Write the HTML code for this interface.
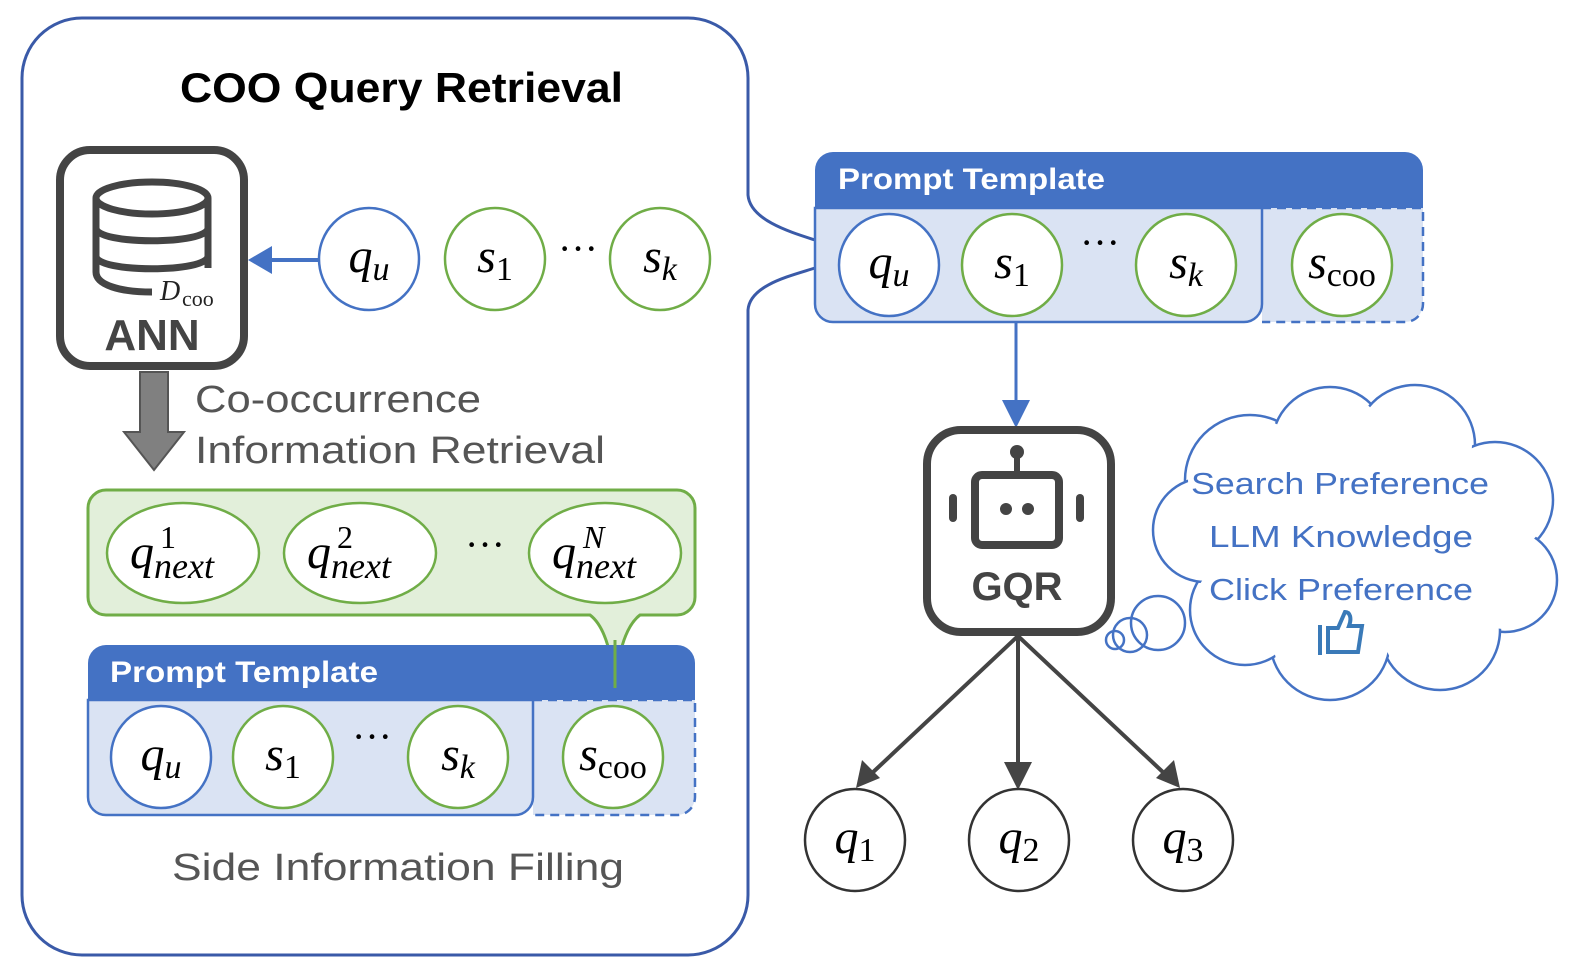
<!DOCTYPE html>
<html><head><meta charset="utf-8"><style>
html,body{margin:0;padding:0;background:#fff;}
svg{display:block;}
.m{font-family:"Liberation Serif",serif;font-style:italic;}
.r{font-family:"Liberation Serif",serif;}
.s{font-family:"Liberation Sans",sans-serif;}
</style></head><body>
<svg width="1576" height="976" viewBox="0 0 1576 976" xmlns="http://www.w3.org/2000/svg">
<!-- big left box with notch -->
<path d="M82,18 H688 A60,60 0 0 1 748,78 V195 C750,220 790,232 815,240 M815,268 C790,276 750,285 748,310 V895 A60,60 0 0 1 688,955 H82 A60,60 0 0 1 22,895 V78 A60,60 0 0 1 82,18" fill="none" stroke="#3a5aa8" stroke-width="3"/>
<text x="180" y="102" class="s" font-weight="bold" font-size="42" fill="#000" textLength="443" lengthAdjust="spacingAndGlyphs">COO Query Retrieval</text>

<!-- ANN box -->
<rect x="60" y="150" width="184" height="216" rx="30" fill="#fff" stroke="#444" stroke-width="8"/>
<g fill="none" stroke="#444" stroke-width="7">
<ellipse cx="152" cy="198" rx="56" ry="16"/>
<path d="M96,198 V272 C96,285 120,292 152,292 M208,198 V268"/>
<path d="M96,228 C96,245 208,245 208,228"/>
<path d="M96,256 C96,273 208,273 208,256"/>
</g>
<text x="160" y="300" class="m" font-size="28" fill="#222">D</text>
<text x="182" y="306" class="r" font-size="22" fill="#222">coo</text>
<text x="152" y="350" text-anchor="middle" class="s" font-weight="bold" font-size="44" fill="#444">ANN</text>

<!-- blue arrow -->
<line x1="318" y1="260" x2="270" y2="260" stroke="#4472c4" stroke-width="4"/>
<path d="M248,260 L272,246 L272,274 Z" fill="#4472c4"/>

<!-- top circles -->
<ellipse cx="369" cy="259" rx="50" ry="51" fill="#fff" stroke="#4472c4" stroke-width="2.5"/>
<text x="369" y="272" text-anchor="middle" class="m" font-size="48">q<tspan font-size="34" dy="8">u</tspan></text>
<ellipse cx="495" cy="259" rx="50" ry="51" fill="#fff" stroke="#70ad47" stroke-width="2.5"/>
<text x="495" y="272" text-anchor="middle" class="m" font-size="48">s<tspan class="r" font-style="normal" font-size="34" dy="8">1</tspan></text>
<text x="578" y="262" text-anchor="middle" class="r" font-size="40">···</text>
<ellipse cx="660" cy="259" rx="50" ry="51" fill="#fff" stroke="#70ad47" stroke-width="2.5"/>
<text x="660" y="272" text-anchor="middle" class="m" font-size="48">s<tspan font-size="34" dy="8">k</tspan></text>

<!-- gray arrow -->
<path d="M140,372 H168 V432 H184 L154,470 L124,432 H140 Z" fill="#808080" stroke="#555" stroke-width="2"/>
<text x="195" y="412" class="s" font-size="38" fill="#555" textLength="286" lengthAdjust="spacingAndGlyphs">Co-occurrence</text>
<text x="195" y="463" class="s" font-size="38" fill="#555" textLength="410" lengthAdjust="spacingAndGlyphs">Information Retrieval</text>

<!-- green box -->
<path d="M106,490 H677 A18,18 0 0 1 695,508 V597 A18,18 0 0 1 677,615 H640 Q620,630 615,688 Q610,630 590,615 H106 A18,18 0 0 1 88,597 V508 A18,18 0 0 1 106,490 Z" fill="#e2efda" stroke="#70ad47" stroke-width="3"/>
<g font-size="48" class="m">
<ellipse cx="183" cy="553" rx="76" ry="50" fill="#fff" stroke="#70ad47" stroke-width="2.5"/>
<text x="130" y="568">q<tspan font-size="36" dy="10">next</tspan></text><text x="160" y="548" class="r" font-style="normal" font-size="32">1</text>
<ellipse cx="360" cy="553" rx="76" ry="50" fill="#fff" stroke="#70ad47" stroke-width="2.5"/>
<text x="307" y="568">q<tspan font-size="36" dy="10">next</tspan></text><text x="337" y="548" class="r" font-style="normal" font-size="32">2</text>
<text x="485" y="558" text-anchor="middle" class="r" font-style="normal" font-size="40">···</text>
<ellipse cx="605" cy="553" rx="76" ry="50" fill="#fff" stroke="#70ad47" stroke-width="2.5"/>
<text x="552" y="568">q<tspan font-size="36" dy="10">next</tspan></text><text x="583" y="548" font-size="32">N</text>
</g>

<!-- lower prompt template -->
<path d="M533,700 H695 V797 A18,18 0 0 1 677,815 H533" fill="#dae3f3" stroke="#4472c4" stroke-width="2.5" stroke-dasharray="9,6"/>
<path d="M88,700 H533 V797 A18,18 0 0 1 515,815 H106 A18,18 0 0 1 88,797 Z" fill="#dae3f3" stroke="#4472c4" stroke-width="2.5"/>
<path d="M106,645 H677 A18,18 0 0 1 695,663 V700 H88 V663 A18,18 0 0 1 106,645 Z" fill="#4472c4"/>
<text x="110" y="682" class="s" font-weight="bold" font-size="30" fill="#fff" textLength="268" lengthAdjust="spacingAndGlyphs">Prompt Template</text>
<line x1="615" y1="640" x2="615" y2="688" stroke="#70ad47" stroke-width="3"/>
<ellipse cx="161" cy="757" rx="50" ry="51" fill="#fff" stroke="#4472c4" stroke-width="2.5"/>
<text x="161" y="770" text-anchor="middle" class="m" font-size="48">q<tspan font-size="34" dy="8">u</tspan></text>
<ellipse cx="283" cy="757" rx="50" ry="51" fill="#fff" stroke="#70ad47" stroke-width="2.5"/>
<text x="283" y="770" text-anchor="middle" class="m" font-size="48">s<tspan class="r" font-style="normal" font-size="34" dy="8">1</tspan></text>
<text x="372" y="750" text-anchor="middle" class="r" font-size="40">···</text>
<ellipse cx="458" cy="757" rx="50" ry="51" fill="#fff" stroke="#70ad47" stroke-width="2.5"/>
<text x="458" y="770" text-anchor="middle" class="m" font-size="48">s<tspan font-size="34" dy="8">k</tspan></text>
<ellipse cx="613" cy="757" rx="50" ry="51" fill="#fff" stroke="#70ad47" stroke-width="2.5"/>
<text x="613" y="770" text-anchor="middle" class="m" font-size="48">s<tspan class="r" font-style="normal" font-size="34" dy="8">coo</tspan></text>
<text x="172" y="880" class="s" font-size="38" fill="#555" textLength="452" lengthAdjust="spacingAndGlyphs">Side Information Filling</text>

<!-- right prompt template -->
<path d="M1262,208 H1423 V304 A18,18 0 0 1 1405,322 H1262" fill="#dae3f3" stroke="#4472c4" stroke-width="2.5" stroke-dasharray="9,6"/>
<path d="M815,208 H1262 V304 A18,18 0 0 1 1244,322 H833 A18,18 0 0 1 815,304 Z" fill="#dae3f3" stroke="#4472c4" stroke-width="2.5"/>
<path d="M833,152 H1405 A18,18 0 0 1 1423,170 V208 H815 V170 A18,18 0 0 1 833,152 Z" fill="#4472c4"/>
<text x="838" y="189" class="s" font-weight="bold" font-size="30" fill="#fff" textLength="267" lengthAdjust="spacingAndGlyphs">Prompt Template</text>
<ellipse cx="889" cy="265" rx="50" ry="51" fill="#fff" stroke="#4472c4" stroke-width="2.5"/>
<text x="889" y="278" text-anchor="middle" class="m" font-size="48">q<tspan font-size="34" dy="8">u</tspan></text>
<ellipse cx="1012" cy="265" rx="50" ry="51" fill="#fff" stroke="#70ad47" stroke-width="2.5"/>
<text x="1012" y="278" text-anchor="middle" class="m" font-size="48">s<tspan class="r" font-style="normal" font-size="34" dy="8">1</tspan></text>
<text x="1100" y="256" text-anchor="middle" class="r" font-size="40">···</text>
<ellipse cx="1186" cy="265" rx="50" ry="51" fill="#fff" stroke="#70ad47" stroke-width="2.5"/>
<text x="1186" y="278" text-anchor="middle" class="m" font-size="48">s<tspan font-size="34" dy="8">k</tspan></text>
<ellipse cx="1342" cy="265" rx="50" ry="51" fill="#fff" stroke="#70ad47" stroke-width="2.5"/>
<text x="1342" y="278" text-anchor="middle" class="m" font-size="48">s<tspan class="r" font-style="normal" font-size="34" dy="8">coo</tspan></text>

<!-- arrow to GQR -->
<line x1="1016" y1="322" x2="1016" y2="402" stroke="#4472c4" stroke-width="3"/>
<path d="M1002,400 H1030 L1016,428 Z" fill="#4472c4"/>

<!-- GQR box -->
<rect x="927" y="430" width="184" height="202" rx="34" fill="#fff" stroke="#444" stroke-width="8"/>
<circle cx="1017" cy="452" r="7" fill="#444"/>
<rect x="1014" y="455" width="6" height="20" fill="#444"/>
<rect x="975" y="475" width="84" height="70" rx="7" fill="#fff" stroke="#444" stroke-width="8"/>
<circle cx="1006" cy="509" r="6" fill="#444"/><circle cx="1028" cy="509" r="6" fill="#444"/>
<rect x="949" y="494" width="8" height="28" rx="4" fill="#444"/>
<rect x="1076" y="494" width="8" height="28" rx="4" fill="#444"/>
<text x="1017" y="600" text-anchor="middle" class="s" font-weight="bold" font-size="40" fill="#444">GQR</text>

<!-- output arrows -->
<g stroke="#444" stroke-width="4">
<line x1="1018" y1="636" x2="870" y2="775"/>
<line x1="1018" y1="636" x2="1018" y2="765"/>
<line x1="1018" y1="636" x2="1166" y2="775"/>
</g>
<path d="M856,788 L862,760 L880,778 Z" fill="#444"/>
<path d="M1004,762 H1032 L1018,790 Z" fill="#444"/>
<path d="M1180,788 L1174,760 L1156,778 Z" fill="#444"/>
<g fill="#fff" stroke="#333" stroke-width="2.5">
<ellipse cx="855" cy="840" rx="50" ry="51"/><ellipse cx="1019" cy="840" rx="50" ry="51"/><ellipse cx="1183" cy="840" rx="50" ry="51"/>
</g>
<text x="855" y="853" text-anchor="middle" class="m" font-size="48">q<tspan class="r" font-style="normal" font-size="34" dy="8">1</tspan></text>
<text x="1019" y="853" text-anchor="middle" class="m" font-size="48">q<tspan class="r" font-style="normal" font-size="34" dy="8">2</tspan></text>
<text x="1183" y="853" text-anchor="middle" class="m" font-size="48">q<tspan class="r" font-style="normal" font-size="34" dy="8">3</tspan></text>

<!-- cloud -->
<g fill="#fff" stroke="#4472c4" stroke-width="2.5">
<circle cx="1250" cy="480" r="65"/><circle cx="1330" cy="445" r="58"/><circle cx="1415" cy="445" r="60"/>
<circle cx="1495" cy="500" r="58"/><circle cx="1505" cy="580" r="52"/><circle cx="1440" cy="630" r="60"/>
<circle cx="1330" cy="640" r="60"/><circle cx="1245" cy="610" r="55"/><circle cx="1205" cy="530" r="52"/>
</g>
<g fill="#fff">
<circle cx="1250" cy="480" r="62"/><circle cx="1330" cy="445" r="55"/><circle cx="1415" cy="445" r="57"/>
<circle cx="1495" cy="500" r="55"/><circle cx="1505" cy="580" r="49"/><circle cx="1440" cy="630" r="57"/>
<circle cx="1330" cy="640" r="57"/><circle cx="1245" cy="610" r="52"/><circle cx="1205" cy="530" r="49"/>
<rect x="1220" y="470" width="260" height="150"/>
</g>
<g fill="none" stroke="#4472c4" stroke-width="2.5">
<circle cx="1158" cy="623" r="27"/><circle cx="1130" cy="635" r="17"/><circle cx="1115" cy="640" r="9"/>
</g>
<g class="s" font-size="31" fill="#4472c4">
<text x="1191" y="494" textLength="298" lengthAdjust="spacingAndGlyphs">Search Preference</text>
<text x="1209" y="547" textLength="264" lengthAdjust="spacingAndGlyphs">LLM Knowledge</text>
<text x="1209" y="600" textLength="264" lengthAdjust="spacingAndGlyphs">Click Preference</text>
</g>
<path d="M1320,625 V655 M1328,628 H1338 L1345,612 C1350,612 1352,618 1349,626 H1362 L1358,652 H1328 Z" fill="none" stroke="#3a7ab8" stroke-width="4"/>
</svg>
</body></html>
